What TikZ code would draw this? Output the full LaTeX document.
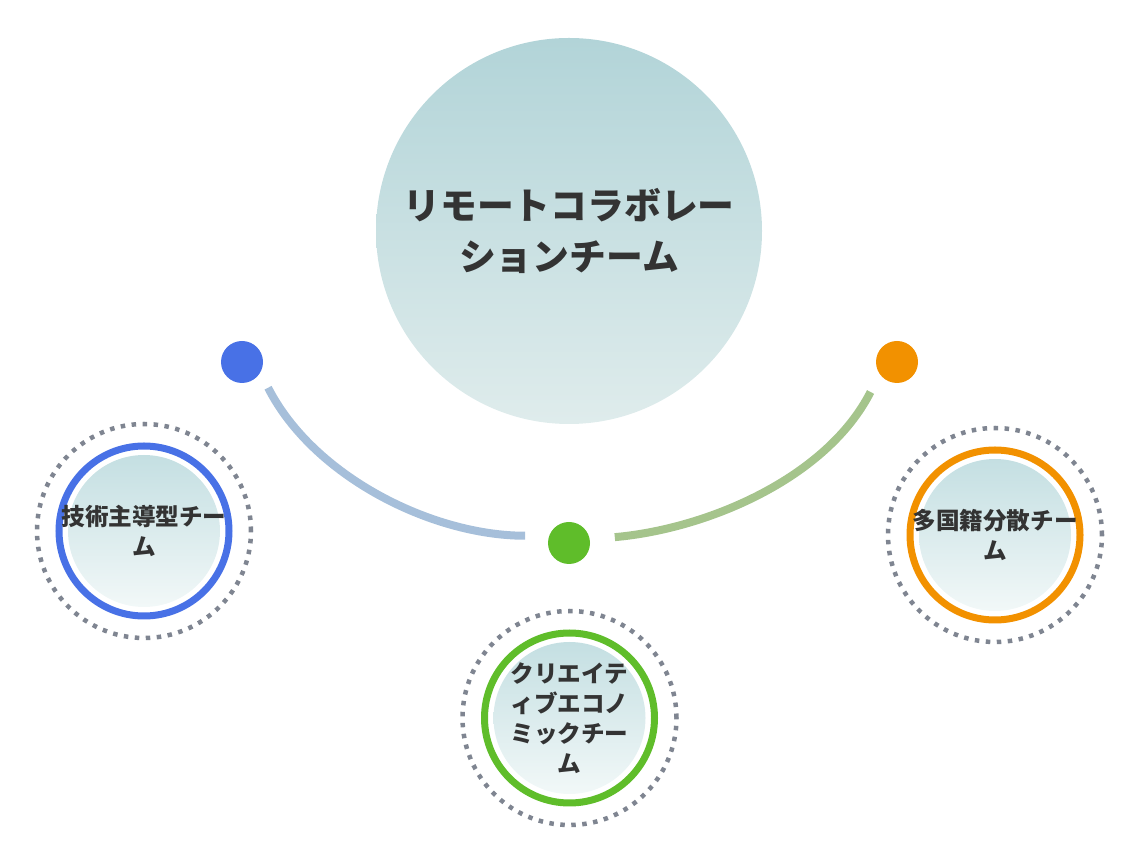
\documentclass[tikz,border=0pt]{standalone}
\usepackage{fontspec}
\newfontfamily\jp{Noto Sans CJK JP}
\usepackage{tikz}
\definecolor{ink}{HTML}{333333}
\definecolor{techblue}{HTML}{4871E6}
\definecolor{multiorange}{HTML}{F29100}
\definecolor{creagreen}{HTML}{5FBD2A}
\definecolor{bluelink}{HTML}{A6BFDA}
\definecolor{greenlink}{HTML}{A5C48C}
\definecolor{halogray}{HTML}{7F8591}
\definecolor{hubtop}{HTML}{B2D4D8}
\definecolor{hubbot}{HTML}{DFECEC}
\definecolor{innertop}{HTML}{C4DFE2}
\definecolor{innerbot}{HTML}{F2F8F8}

\begin{document}
\begin{tikzpicture}[x=1pt,y=1pt,
  dot/.style={circle,minimum size=42pt,inner sep=0pt},
  link/.style={line width=8pt},
  halo/.style={draw=halogray,line width=4.5pt,dash pattern=on 4.5pt off 6.5pt},
  ring/.style={line width=7pt},
  teamtext/.style={align=center,text=ink,font=\jp\bfseries\fontsize{23.6}{30}\selectfont}]
 \useasboundingbox (0,0) rectangle (1138,862);
 % hub
 \node[circle,minimum size=386pt,top color=hubtop,bottom color=hubbot,text=ink,align=center,
   font=\jp\bfseries\fontsize{36.8}{51}\selectfont] (hub) at (569,631) {リモートコラボレー\\ションチーム};
 % teams
 \foreach \nm/\x/\y/\col/\txt in {tech/144/331/techblue/{技術主導型チー\\ム},
     crea/569.5/144/creagreen/{クリエイテ\\ィブエコノ\\ミックチー\\ム},
     multi/995/327/multiorange/{多国籍分散チー\\ム}} {
   \shade[top color=innertop,bottom color=innerbot] (\x,\y) circle (76);
   \draw[ring,draw=\col] (\x,\y) circle (85);
   \draw[halo] (\x,\y) circle (107);
   \node[teamtext] (\nm) at (\x,\y) {\txt};
 }
 % dots
 \node[dot,fill=techblue] (techdot) at (242,500) {};
 \node[dot,fill=multiorange] (multidot) at (897,500) {};
 \node[dot,fill=creagreen] (creadot) at (569,319) {};
 \draw[link,draw=bluelink,shorten <=17pt,shorten >=24pt] (techdot.-30) to[out=-63,in=180,looseness=0.9] (creadot.160);
 \draw[link,draw=greenlink,shorten <=25pt,shorten >=20pt] (creadot.10) to[out=5,in=-117,looseness=0.9] (multidot.-145);
\end{tikzpicture}
\end{document}
